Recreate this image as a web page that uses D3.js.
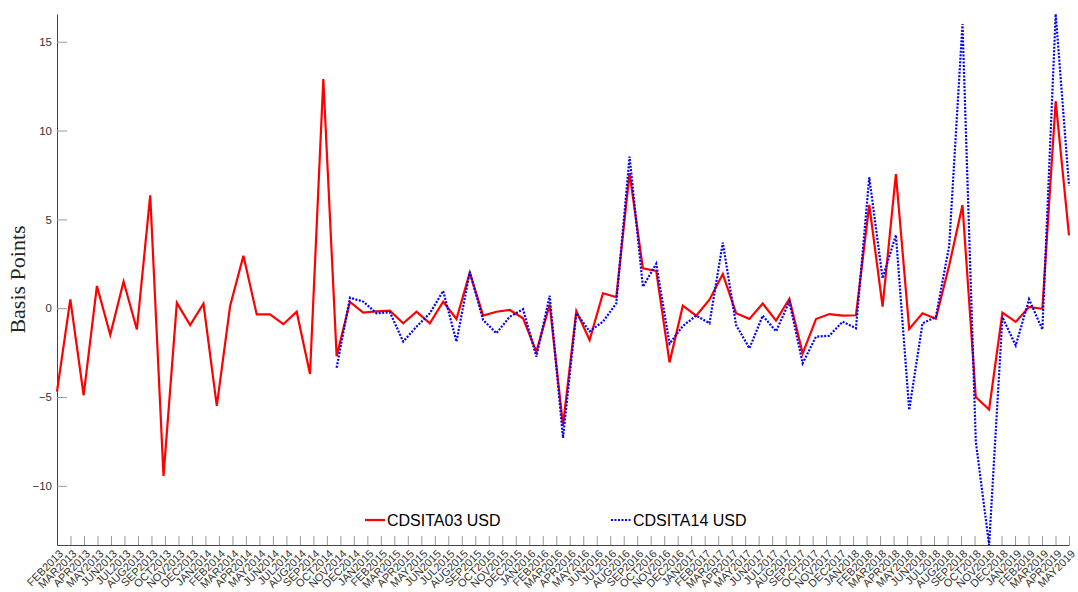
<!DOCTYPE html>
<html>
<head>
<meta charset="utf-8">
<script src="https://cdn.jsdelivr.net/npm/d3@7"></script>
<style>
  body { margin: 0; background: #fff; }
  svg { display: block; }
</style>
</head>
<body>
<div id="chart"></div>
<script>
// monthly spread changes, basis points
var cds03 = [-4.7, 0.5, -4.9, 1.25, -1.5, 1.5, -1.2, 6.35, -9.45, 0.3,
  -0.95, 0.25, -5.5, 0.12, 2.95, -0.35, -0.35, -0.9, -0.2, -3.7,
  12.9, -2.7, 0.35, -0.25, -0.18, -0.14, -0.85, -0.2, -0.85, 0.37,
  -0.61, 2.0, -0.42, -0.2, -0.1, -0.57, -2.45, 0.2, -6.6, -0.16,
  -1.79, 0.84, 0.63, 7.6, 2.24, 2.1, -3.05, 0.14, -0.42, 0.48,
  1.92, -0.28, -0.6, 0.26, -0.7, 0.53, -2.54, -0.61, -0.33, -0.42,
  -0.4, 5.81, 0.09, 7.55, -1.17, -0.29, -0.6, 2.4, 5.8, -5.0,
  -5.7, -0.25, -0.77, 0.07, -0.03, 11.65, 4.1];

// CDSITA14 only starts later (null = no quote yet)
var cds14 = [null, null, null, null, null, null, null, null, null, null,
  null, null, null, null, null, null, null, null, null, null,
  null, -3.35, 0.59, 0.37, -0.29, -0.23, -1.88, -1.04, -0.29, 0.97,
  -1.88, 2.05, -0.66, -1.41, -0.48, -0.06, -2.73, 0.7, -7.3, -0.29,
  -1.3, -0.76, 0.27, 8.53, 1.21, 2.5, -2.0, -1.0, -0.42, -0.85,
  3.69, -0.95, -2.26, -0.42, -1.3, 0.37, -3.1, -1.6, -1.55, -0.76,
  -1.13, 7.37, 1.68, 4.12, -5.73, -0.85, -0.5, 3.5, 16.0, -7.5,
  -13.33, -0.51, -2.1, 0.5, -1.2, 16.56, 6.9];

var seriesNames = ["CDSITA03 USD", "CDSITA14 USD"];
var yTicks = [-10, -5, 0, 5, 10, 15];

// x tick labels, FEB2013 .. MAY2019
var firstMonth = new Date(2013, 1, 1), lastMonth = new Date(2019, 4, 1);
var fmt = d3.timeFormat("%b%Y");
var monthLabels = d3.timeMonth.range(firstMonth, d3.timeMonth.offset(lastMonth, 1))
  .map(function(d){ return fmt(d).toUpperCase(); });

var width = 1078, height = 592;
var plotLeft = 57, plotRight = 1069, plotTop = 14, plotBottom = 545;

var svg = d3.select("#chart").append("svg")
  .attr("width", width)
  .attr("height", height)
  .style("font-family", "'Liberation Sans', Arial, sans-serif");

var allVals = cds03.concat(cds14.filter(function(v){ return v != null; }));

var x = d3.scaleLinear().domain([0, cds03.length - 1]).range([plotLeft, plotRight]);
var xt = d3.scalePoint().domain(monthLabels).range([plotLeft, plotRight]);
var y = d3.scaleLinear().domain(d3.extent(allVals)).range([plotBottom, plotTop]);

// axes
var gx = svg.append("g")
  .attr("transform", "translate(0," + plotBottom + ")")
  .call(d3.axisBottom(xt).tickSizeInner(-9).tickSizeOuter(0));
gx.select(".domain").attr("stroke", "#444");
gx.selectAll(".tick line").attr("stroke", "#999");
gx.selectAll(".tick text")
  .attr("fill", "#333")
  .style("font-size", "11px")
  .attr("text-anchor", "end")
  .attr("x", 0).attr("y", 0)
  .attr("dy", "0.7em")
  .attr("transform", "translate(1,4) rotate(-45)");

var gy = svg.append("g")
  .attr("transform", "translate(" + plotLeft + ",0)")
  .call(d3.axisLeft(y).tickValues(yTicks).tickSizeInner(-10).tickSizeOuter(0).tickPadding(5));
gy.select(".domain").attr("stroke", "#444");
gy.selectAll(".tick line").attr("stroke", "#999");
gy.selectAll(".tick text").attr("fill", "#333").style("font-size", "11.5px");

svg.append("text")
  .attr("transform", "translate(25," + (plotTop + plotBottom) / 2 + ") rotate(-90)")
  .attr("text-anchor", "middle")
  .style("font-family", "'Liberation Serif', 'Times New Roman', serif")
  .style("font-size", "22px")
  .attr("fill", "#262626")
  .text("Basis Points");

// lines
var line = d3.line()
  .defined(function(d){ return d != null; })
  .x(function(d, i){ return x(i); })
  .y(function(d){ return y(d); });

svg.append("path")
  .datum(cds03)
  .attr("d", line)
  .attr("fill", "none")
  .attr("stroke", "#ff0000")
  .attr("stroke-width", 2.2);

svg.append("path")
  .datum(cds14)
  .attr("d", line)
  .attr("fill", "none")
  .attr("stroke", "#0000ff")
  .attr("stroke-width", 2.2)
  .attr("stroke-dasharray", "2,1.5");

// legend
var legend = svg.append("g").attr("transform", "translate(0,520)");
var legX = [365, 611];
var legStyle = [{c: "#ff0000", dash: null}, {c: "#0000ff", dash: "2,1.5"}];
seriesNames.forEach(function(name, k){
  var g = legend.append("g").attr("transform", "translate(" + legX[k] + ",0)");
  g.append("line")
    .attr("x1", 0).attr("x2", 20)
    .attr("stroke", legStyle[k].c)
    .attr("stroke-width", 2.2)
    .attr("stroke-dasharray", legStyle[k].dash);
  g.append("text")
    .attr("x", 22)
    .attr("dy", "0.35em")
    .style("font-size", "16px")
    .attr("fill", "#000")
    .text(name);
});
</script>
</body>
</html>
